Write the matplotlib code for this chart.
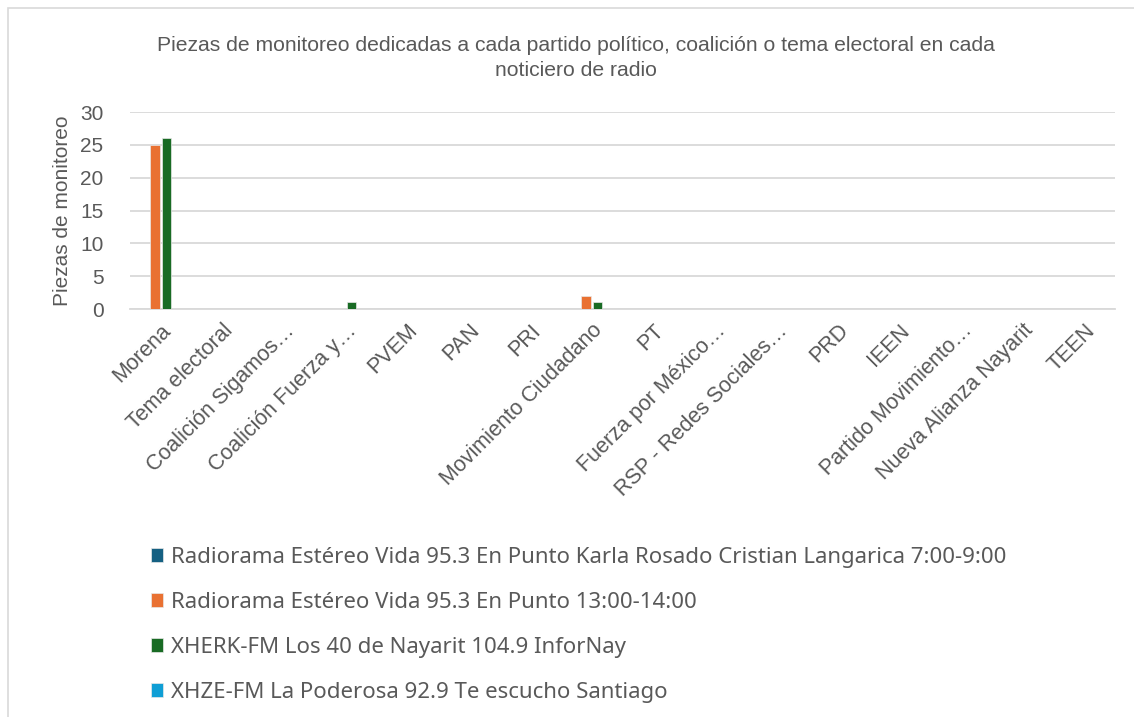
import matplotlib
matplotlib.use("Agg")
import matplotlib.pyplot as plt
from matplotlib.patches import Rectangle
import numpy as np

categories = ["Morena", "Tema electoral", "Coalición Sigamos…", "Coalición Fuerza y…",
              "PVEM", "PAN", "PRI", "Movimiento Ciudadano", "PT", "Fuerza por México…",
              "RSP - Redes Sociales…", "PRD", "IEEN", "Partido Movimiento…",
              "Nueva Alianza Nayarit", "TEEN"]
series_names = [
    "Radiorama Estéreo Vida 95.3 En Punto Karla Rosado Cristian Langarica 7:00-9:00",
    "Radiorama Estéreo Vida 95.3 En Punto 13:00-14:00",
    "XHERK-FM Los 40 de Nayarit 104.9 InforNay",
    "XHZE-FM La Poderosa 92.9 Te escucho Santiago",
]
s1 = [0, 0, 0, 0, 0, 0, 0, 0, 0, 0, 0, 0, 0, 0, 0, 0]
s2 = [25, 0, 0, 0, 0, 0, 0, 2, 0, 0, 0, 0, 0, 0, 0, 0]
s3 = [26, 0, 0, 1, 0, 0, 0, 1, 0, 0, 0, 0, 0, 0, 0, 0]
s4 = [0, 0, 0, 0, 0, 0, 0, 0, 0, 0, 0, 0, 0, 0, 0, 0]
yticks = [0, 5, 10, 15, 20, 25, 30]

colors = ["#156082", "#E97132", "#196B24", "#0F9ED5"]
txt = "#595959"
afont = ["Liberation Sans", "DejaVu Sans"]
lfont = ["Noto Sans", "DejaVu Sans"]

fig = plt.figure(figsize=(11.34, 7.17), dpi=100)
ax = fig.add_axes([130/1134, 1-309/717, 985/1134, 197/717])

x = np.arange(len(categories))
slot = 0.187
bw = 0.15
for i, (vals, c, name) in enumerate(zip([s1, s2, s3, s4], colors, series_names)):
    ax.bar(x + (i - 1.5) * slot, vals, width=bw, color=c, label=name,
           edgecolor="#e8e8e8", linewidth=0.5, zorder=3)

ax.set_xlim(-0.5, len(categories) - 0.5)
ax.set_ylim(0, 30)
ax.set_yticks(yticks)
ax.set_yticklabels([str(v) for v in yticks], fontsize=15, color=txt, family=afont)
ax.yaxis.grid(True, color="#d9d9d9", linewidth=1.3, zorder=0)
ax.set_axisbelow(True)
for s in ["top", "right", "left"]:
    ax.spines[s].set_visible(False)
ax.spines["bottom"].set_color("#d9d9d9")
ax.spines["bottom"].set_linewidth(1.3)
ax.tick_params(axis="y", length=0, pad=19)
ax.tick_params(axis="x", length=0, pad=8)
ax.set_xticks(x)
ax.set_xticklabels(categories, rotation=45, ha="right", rotation_mode="anchor",
                   fontsize=15.5, color=txt, family=afont)
ax.set_ylabel("Piezas de monitoreo", fontsize=15, color=txt, family=afont)
ax.yaxis.set_label_coords((72 - 130) / 985, 0.5)

fig.text(0.508, 1-58/717, "Piezas de monitoreo dedicadas a cada partido político, coalición o tema electoral en cada\nnoticiero de radio",
         ha="center", va="center", fontsize=15.2, color=txt, family=afont,
         linespacing=1.35)

handles, labels = ax.get_legend_handles_labels()
leg = fig.legend(handles, labels, loc="upper left", bbox_to_anchor=(131/1134, 1-527/717),
                 frameon=False, handlelength=0.55, handleheight=0.55, handletextpad=0.35,
                 labelspacing=1.08, prop={"family": lfont, "size": 16})
for t in leg.get_texts():
    t.set_color(txt)

fig.patches.append(Rectangle((8/1134, -0.1), 1.2, 1 - 8/717 + 0.1, transform=fig.transFigure,
                             fill=False, edgecolor="#d9d9d9", linewidth=1.2))

fig.savefig("out.png", dpi=100)
